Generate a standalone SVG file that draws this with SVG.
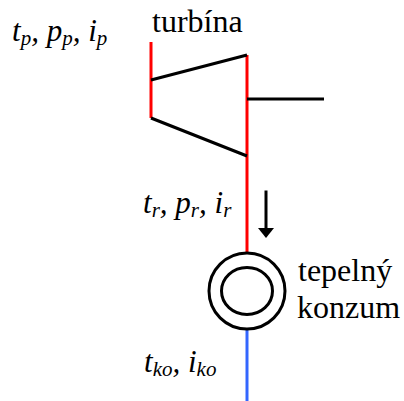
<svg xmlns="http://www.w3.org/2000/svg" width="404" height="401" viewBox="0 0 404 401">
<style>
text{font-family:"Liberation Serif","Times New Roman",serif;fill:#000}
.l{font-size:32px}
.v{font-size:31px;font-style:italic}
.s{font-size:21px;font-style:italic}
.k{stroke:#000;stroke-width:3;fill:none}
.r{stroke:#f00;stroke-width:3;fill:none}
.b{stroke:#3366ff;stroke-width:3;fill:none}
</style>
<defs><marker id="ah" markerUnits="userSpaceOnUse" markerWidth="16" markerHeight="11" refX="11" refY="8" orient="auto"><path d="M0 0L11 8L0 16Z" fill="#000"/></marker></defs>
<rect width="404" height="401" fill="#fff"/>
<g id="connectors">
<path class="r" d="M151 42V118"/>
<path class="r" d="M247 55V252"/>
<path class="b" d="M247 330V401"/>
<path class="k" d="M266 190.500V232"/>
<path d="M258 228H274L266 238Z" fill="#000"/>
</g>
<g id="turbine">
<path class="k" d="M151 80L247 55M151 118L247 156M247 99H324"/>
<text class="l" x="152" y="32">turbína</text>
</g>
<g id="consumer">
<circle class="k" cx="247" cy="291" r="38"/>
<ellipse class="k" cx="247" cy="291" rx="25.500" ry="23.500"/>
<text class="l" x="298" y="281">tepelný</text>
<text class="l" x="297" y="318">konzum</text>
</g>
<g id="labels">
<text class="v" x="12" y="41">t<tspan class="s" dy="4">p</tspan><tspan dy="-4">, p</tspan><tspan class="s" dy="4">p</tspan><tspan dy="-4">, i</tspan><tspan class="s" dy="4">p</tspan></text>
<text class="v" x="143" y="213">t<tspan class="s" dy="4">r</tspan><tspan dy="-4">, p</tspan><tspan class="s" dy="4">r</tspan><tspan dy="-4">, i</tspan><tspan class="s" dy="4">r</tspan></text>
<text class="v" x="144" y="372">t<tspan class="s" dy="4">ko</tspan><tspan dy="-4">, i</tspan><tspan class="s" dy="4">ko</tspan></text>
</g>
</svg>
